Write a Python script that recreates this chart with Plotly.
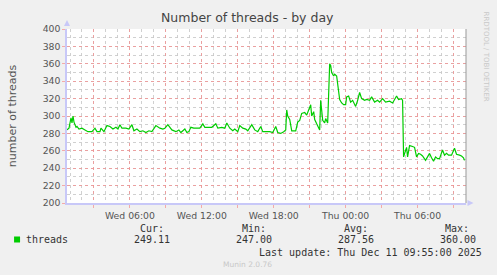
import plotly.graph_objects as go

# ---- data ----
day1 = "2025-12-10 "
day2 = "2025-12-11 "
times_wed = ["00:45","00:55","01:05","01:10","01:15","01:20","01:30","01:35","01:45","02:00",
             "02:15","02:30","02:50","03:05","03:15","03:30","03:35","03:50","04:05","04:20",
             "04:35","04:50","05:00","05:10","05:20","05:40","05:55","06:10","06:20","06:35",
             "06:50","07:05","07:20","07:35","07:50","08:10","08:30","08:45","08:55","09:10",
             "09:30","09:50","10:05","10:15","10:35","10:45","10:55","11:05","11:20","11:35",
             "11:50","12:05","12:15","12:35","12:50","13:10","13:20","13:40","13:55","14:05",
             "14:20","14:35","14:45","15:00","15:10","15:25","15:40","15:50","16:10","16:25",
             "16:40","16:55","17:05","17:25","17:40","17:55","18:10","18:20","18:35","18:50",
             "19:00","19:05","19:10","19:20","19:30","19:50","20:00","20:10","20:20","20:35",
             "20:45","21:05","21:10","21:20","21:25","21:35","21:45","21:50","21:55","22:05",
             "22:15","22:20","22:30","22:40","22:45","22:50","23:00","23:05","23:15","23:20",
             "23:30","23:40","23:50"]
vals_wed = [284,286,298,292,300,293,287,288,285,286,
            284,282,282,286,282,282,286,282,289,288,
            285,287,285,290,286,286,285,290,283,285,
            282,283,281,283,282,289,286,285,286,290,
            284,282,284,281,285,281,282,287,286,286,
            286,291,287,287,287,291,286,287,286,292,
            286,283,285,282,289,286,285,283,290,284,
            282,288,282,282,282,281,288,281,280,282,
            284,307,300,296,283,283,293,295,303,304,
            301,313,300,305,296,291,285,284,318,295,
            292,297,292,360,358,350,346,348,346,335,
            319,315,313]
times_thu = ["00:00","00:05","00:15","00:25","00:35","00:50","01:00","01:10","01:20","01:35",
             "01:45","02:00","02:10","02:25","02:40","02:50","03:05","03:20","03:40","03:55",
             "04:15","04:25","04:40","04:45","04:50","05:00","05:05","05:10","05:20","05:35",
             "05:45","05:55","06:05","06:15","06:25","06:40","07:00","07:10","07:20","07:30",
             "07:40","07:50","08:05","08:15","08:25","08:35","08:50","09:05","09:15","09:30",
             "09:40","09:50","09:55"]
vals_thu = [313,322,323,316,318,311,318,327,320,318,
            319,318,322,316,318,316,320,316,317,315,
            323,319,320,318,253,262,264,253,266,265,
            264,253,257,256,254,249,257,252,248,253,
            251,251,261,255,257,255,255,263,256,255,
            254,252,249]

times = [day1 + t for t in times_wed] + [day2 + t for t in times_thu]
threads = vals_wed + vals_thu

y_ticks = [200, 220, 240, 260, 280, 300, 320, 340, 360, 380, 400]
x_major = ["2025-12-10 03:00", "2025-12-10 06:00", "2025-12-10 09:00", "2025-12-10 12:00",
           "2025-12-10 15:00", "2025-12-10 18:00", "2025-12-10 21:00", "2025-12-11 00:00",
           "2025-12-11 03:00", "2025-12-11 06:00", "2025-12-11 09:00"]
x_labels = ["", "Wed 06:00", "", "Wed 12:00", "", "Wed 18:00", "", "Thu 00:00", "", "Thu 06:00", ""]

legend_name = "threads"
stat_heads = ["Cur:", "Min:", "Avg:", "Max:"]
stat_vals = ["249.11", "247.00", "287.56", "360.00"]
last_update = "Last update: Thu Dec 11 09:55:00 2025"

# ---- layout helpers (pixel -> paper) ----
W, H = 497, 275
L, R, T, B = 67, 466.5, 29, 203
def px(x):
    return (x - L) / (R - L)
def py(y):
    return (B - y) / (B - T)

SANS = "DejaVu Sans"
MONO = "DejaVu Sans Mono"
GREEN = "#00cc00"
MAJ = "rgba(245,140,140,0.7)"
MIN = "rgba(200,200,200,0.85)"
AXIS = "#c8c8f8"

fig = go.Figure()
fig.add_trace(go.Scatter(x=times, y=threads, mode="lines",
                         line=dict(color=GREEN, width=1.2), hoverinfo="skip",
                         showlegend=False))

fig.update_layout(
    width=W, height=H,
    margin=dict(l=L, r=W - R, t=T, b=H - B),
    paper_bgcolor="#f0f0f0", plot_bgcolor="#ffffff",
    font=dict(family=SANS, size=9.3, color="#555555"),
    showlegend=False,
)
fig.update_xaxes(
    type="date", range=["2025-12-10 00:45", "2025-12-11 10:02:30"],
    tickmode="array", tickvals=x_major, ticktext=x_labels,
    showgrid=True, gridcolor=MAJ, griddash="dot", gridwidth=1,
    minor=dict(dtick=3600000, tick0="2025-12-10 00:00", showgrid=True,
               gridcolor=MIN, griddash="dot", gridwidth=1),
    ticks="outside", ticklen=3, tickcolor=MAJ,
    showline=True, linecolor=AXIS, linewidth=1.5,
    zeroline=False, fixedrange=True,
)
fig.update_yaxes(
    range=[200, 400], tickmode="array", tickvals=y_ticks,
    ticktext=[str(v) for v in y_ticks],
    showgrid=True, gridcolor=MAJ, griddash="dot", gridwidth=1,
    minor=dict(dtick=10, tick0=200, showgrid=True,
               gridcolor=MIN, griddash="dot", gridwidth=1),
    ticks="outside", ticklen=3, tickcolor=MAJ,
    showline=True, linecolor=AXIS, linewidth=1.5,
    zeroline=False, fixedrange=True,
    title=dict(text="number of threads", font=dict(size=11, color="#555555"), standoff=24),
)

shapes = []
# right frame line
shapes.append(dict(type="line", xref="paper", yref="paper", x0=1, x1=1, y0=0, y1=1,
                   line=dict(color="#999999", width=1)))
# axis arrows
shapes.append(dict(type="path", xref="paper", yref="paper",
                   path=f"M {px(64)} {py(26)} L {px(70)} {py(26)} L {px(67)} {py(20)} Z",
                   fillcolor=AXIS, line=dict(width=0)))
shapes.append(dict(type="path", xref="paper", yref="paper",
                   path=f"M {px(468)} {py(200)} L {px(468)} {py(206)} L {px(474)} {py(203)} Z",
                   fillcolor=AXIS, line=dict(width=0)))
# legend colour box
shapes.append(dict(type="rect", xref="paper", yref="paper",
                   x0=px(14), x1=px(20), y0=py(242.5), y1=py(236.5),
                   fillcolor=GREEN, line=dict(width=0)))
fig.update_layout(shapes=shapes)

ann = []
ann.append(dict(text="Number of threads - by day", x=px(248), y=py(18), xref="paper", yref="paper",
                showarrow=False, xanchor="center", yanchor="middle",
                font=dict(family=SANS, size=12.5, color="#444444")))
ann.append(dict(text="RRDTOOL / TOBI OETIKER", x=px(487), y=py(57), xref="paper", yref="paper",
                showarrow=False, textangle=90, xanchor="center", yanchor="middle",
                font=dict(family=SANS, size=7, color="#c8c8c8")))
ann.append(dict(text=legend_name, x=px(26), y=py(239.5), xref="paper", yref="paper",
                showarrow=False, xanchor="left", yanchor="middle",
                font=dict(family=MONO, size=10, color="#333333")))
head_right = [164, 266, 368.5, 470]
val_right = [170, 272.5, 374.5, 477]
for h, v, hr, vr in zip(stat_heads, stat_vals, head_right, val_right):
    ann.append(dict(text=h, x=px(hr), y=py(228), xref="paper", yref="paper",
                    showarrow=False, xanchor="right", yanchor="middle",
                    font=dict(family=MONO, size=10, color="#333333")))
    ann.append(dict(text=v, x=px(vr), y=py(239.5), xref="paper", yref="paper",
                    showarrow=False, xanchor="right", yanchor="middle",
                    font=dict(family=MONO, size=10, color="#333333")))
ann.append(dict(text=last_update, x=px(482.5), y=py(252), xref="paper", yref="paper",
                showarrow=False, xanchor="right", yanchor="middle",
                font=dict(family=MONO, size=10, color="#333333")))
ann.append(dict(text="Munin 2.0.76", x=px(248), y=py(264.5), xref="paper", yref="paper",
                showarrow=False, xanchor="center", yanchor="middle",
                font=dict(family=SANS, size=7.5, color="#c8c8c8")))
for a in ann:
    a["borderpad"] = 0
    a["borderwidth"] = 0
fig.update_layout(annotations=ann)

fig.write_html("out.html")
